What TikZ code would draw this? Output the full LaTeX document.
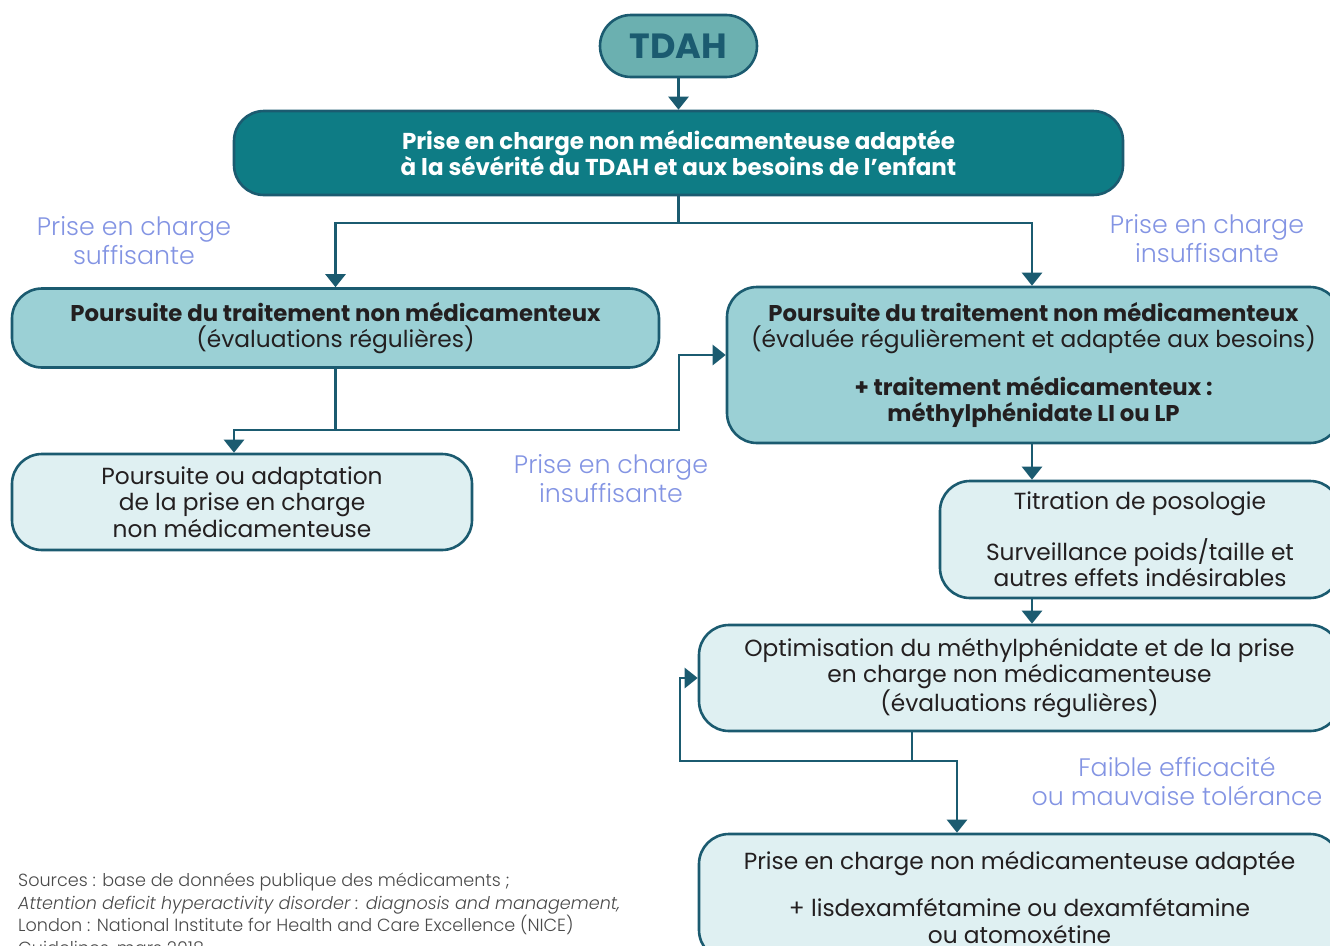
\documentclass[tikz,border=0pt]{standalone}
\usepackage{fontspec}
\setmainfont{Poppins}
\newfontfamily\legere{Poppins}[UprightFont=* Light, ItalicFont=* Light Italic]
\usetikzlibrary{arrows.meta}
\definecolor{trait}{HTML}{1B5B70}
\definecolor{tdahfond}{HTML}{6BB0B0}
\definecolor{fonce}{HTML}{0E7C85}
\definecolor{moyen}{HTML}{9BD0D5}
\definecolor{clair}{HTML}{DFF0F2}
\definecolor{texte}{HTML}{231F20}
\definecolor{etiq}{HTML}{8394E3}
\definecolor{gris}{HTML}{4A4A4A}
\newcommand{\gras}[1]{{\fontsize{22.8}{26.5}\selectfont\bfseries #1}}
\tikzset{
    boite_base/.style={ % style de base des boites
        draw=trait,
        line width=2.6pt,
        rounded corners=30pt,
        align=center,
        inner sep=0pt,
        text=texte,
        font=\fontsize{23.3}{26.5}\selectfont
    },
    pilule/.style={ % le noeud de depart
        boite_base,
        rounded corners=31pt,
        fill=tdahfond,
        text=trait,
        font=\fontsize{35}{36}\selectfont\bfseries
    },
    boite_fonce/.style={ % boite du haut
        boite_base,
        fill=fonce,
        text=white,
        font=\fontsize{23}{26}\selectfont\bfseries
    },
    boite_moyenne/.style={ % boites des traitements
        boite_base,
        fill=moyen
    },
    boite_claire/.style={ % boites des etapes
        boite_base,
        fill=clair
    },
    etiquette/.style={ % textes sur les branches
        align=center,
        text=etiq,
        inner sep=0pt,
        font=\legere\fontsize{25.3}{29}\selectfont
    },
    lien/.style={ % traits sans fleche
        draw=trait,
        line width=2.6pt
    },
    fleche/.style={ % traits avec fleche
        lien,
        -{Triangle[width=20pt,length=13pt]}
    }
}
\begin{document}
\begin{tikzpicture}[x=1pt,y=-1pt]
    \useasboundingbox (0,0) rectangle (1330,945);

    % boites
    \node [pilule, minimum width=157pt, minimum height=62pt] (tdah) at (678.5,46) {TDAH};
    \node [boite_fonce, minimum width=889pt, minimum height=84pt] (depart) at (678.5,153)
        {Prise en charge non médicamenteuse adaptée\\à la sévérité du TDAH et aux besoins de l’enfant};
    \node [boite_moyenne, minimum width=647pt, minimum height=79pt] (suff) at (335.5,328)
        {\gras{Poursuite du traitement non médicamenteux}\\(évaluations régulières)};
    \node [boite_moyenne, minimum width=613pt, minimum height=156pt] (medic) at (1033.5,365)
        {\gras{Poursuite du traitement non médicamenteux}\\(évaluée régulièrement et adaptée aux besoins)\\[21pt]
         \gras{+ traitement médicamenteux :}\\\gras{méthylphénidate LI ou LP}};
    \node [boite_claire, minimum width=460pt, minimum height=96pt] (adapt) at (242,502)
        {Poursuite ou adaptation\\de la prise en charge\\non médicamenteuse};
    \node [boite_claire, minimum width=400pt, minimum height=117pt] (titr) at (1140,539.5)
        {Titration de posologie\\[21pt]Surveillance poids/taille et\\autres effets indésirables};
    \node [boite_claire, minimum width=641pt, minimum height=106pt] (optim) at (1019.5,678)
        {Optimisation du méthylphénidate et de la prise\\en charge non médicamenteuse\\(évaluations régulières)};
    \node [boite_claire, minimum width=641pt, minimum height=126pt] (autre) at (1019.5,897)
        {Prise en charge non médicamenteuse adaptée\\[21pt]+ lisdexamfétamine ou dexamfétamine\\ou atomoxétine};

    % etiquettes
    \node [etiquette] (e_suff) at (134,241) {Prise en charge\\suffisante};
    \node [etiquette] (e_insuff) at (1207,239) {Prise en charge\\insuffisante};
    \node [etiquette] (e_insuff2) at (611,479) {Prise en charge\\insuffisante};
    \node [etiquette] (e_faible) at (1177,781) {Faible efficacité\\ou mauvaise tolérance};

    % sources
    \node [anchor=north west, align=left, inner sep=0pt, text=gris,
           font=\legere\fontsize{17.6}{22.5}\selectfont] (sources) at (18,873)
        {Sources : base de données publique des médicaments ;\\
         \textit{Attention deficit hyperactivity disorder : diagnosis and management,}\\
         London : National Institute for Health and Care Excellence (NICE)\\
         Guidelines, mars 2018};

    % liens
    \coordinate (b1) at (678.5,223);
    \coordinate (b2) at (335.5,430);
    \coordinate (b3) at (679,430);
    \coordinate (b4) at (912,761);
    \coordinate (b5) at (957,761);
    \coordinate (b6) at (680,761);

    \draw [fleche] (tdah) -- (depart);
    \draw [lien] (depart) -- (b1);
    \draw [fleche] (b1) -| (suff.north);
    \draw [fleche] (b1) -| ([xshift=-1.5pt]medic.north);
    \draw [lien] (suff) -- (b2);
    \draw [fleche] (b2) -| ([xshift=-8pt]adapt.north);
    \draw [fleche] (b2) -- (b3) |- ([yshift=10pt]medic.west);
    \draw [fleche] ([xshift=-1.5pt]medic.south) -- ([xshift=-1.5pt]medic.south |- titr.north);
    \draw [fleche] ([xshift=-1.5pt]medic.south |- titr.south) -- ([xshift=-1.5pt]medic.south |- optim.north);
    \draw [lien] (b4 |- optim.south) -- (b4);
    \draw [fleche] (b4) -- (b6) |- (optim.west);
    \draw [fleche] (b4) -- (b5) -- (b5 |- autre.north);

\end{tikzpicture}
\end{document}
